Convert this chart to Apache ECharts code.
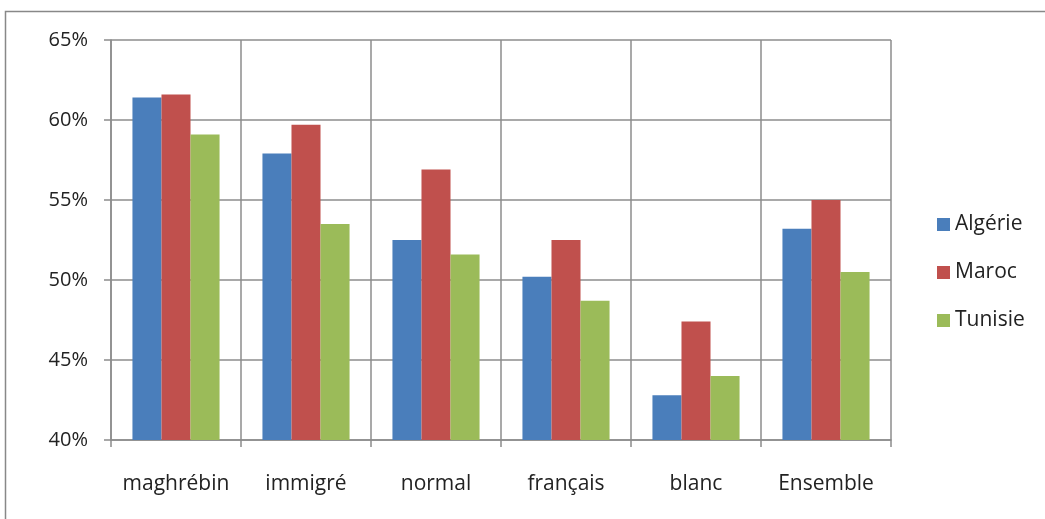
<!DOCTYPE html>
<html>
<head>
<meta charset="utf-8">
<script src="https://cdn.jsdelivr.net/npm/echarts@6/dist/echarts.min.js"></script>
<style>
  html, body { margin: 0; padding: 0; background: #fff; }
  #chart { width: 1045px; height: 519px; }
</style>
</head>
<body>
<div id="chart"></div>
<script>
const categories = ["maghrébin", "immigré", "normal", "français", "blanc", "Ensemble"];
const seriesNames = ["Algérie", "Maroc", "Tunisie"];
const algerie = [61.4, 57.9, 52.5, 50.2, 42.8, 53.2];
const maroc = [61.6, 59.7, 56.9, 52.5, 47.4, 55.0];
const tunisie = [59.1, 53.5, 51.6, 48.7, 44.0, 50.5];
const colors = ["#4a7ebb", "#c0504d", "#9bbb59"];

const font = "'Open Sans', 'Noto Sans', sans-serif";
const gridColor = "#8c8c8c";

const chart = echarts.init(document.getElementById("chart"));
const dataList = [algerie, maroc, tunisie];

const option = {
  backgroundColor: "#fff",
  animation: false,
  graphic: [
    {
      type: "rect",
      shape: { x: 5.5, y: 11.5, width: 1100, height: 600 },
      style: { fill: "none", stroke: "#888", lineWidth: 1.5 }
    }
  ],
  legend: {
    data: seriesNames,
    orient: "vertical",
    left: 932,
    top: 209,
    itemWidth: 13,
    itemHeight: 13,
    itemGap: 27,
    icon: "rect",
    textStyle: { fontFamily: font, fontSize: 21, color: "#222" }
  },
  grid: {
    left: 111,
    right: 1045 - 891,
    top: 40,
    bottom: 519 - 440
  },
  xAxis: {
    type: "category",
    data: categories,
    axisLine: { lineStyle: { color: gridColor, width: 1.5 } },
    axisTick: { show: true, interval: 0, length: 7, lineStyle: { color: gridColor, width: 1.5 } },
    splitLine: { show: true, interval: 0, lineStyle: { color: gridColor, width: 1.5 } },
    axisLabel: { interval: 0, fontFamily: font, fontSize: 21, color: "#222", margin: 34 }
  },
  yAxis: {
    type: "value",
    min: 40,
    max: 65,
    interval: 5,
    axisLine: { show: true, lineStyle: { color: gridColor, width: 1.5 } },
    axisTick: { show: true, length: 7, lineStyle: { color: gridColor, width: 1.5 } },
    splitLine: { show: true, lineStyle: { color: gridColor, width: 1.5 } },
    axisLabel: {
      fontFamily: font, fontSize: 20, color: "#222", margin: 23,
      formatter: v => v + "%"
    }
  },
  series: seriesNames.map((name, i) => ({
    name: name,
    type: "bar",
    data: dataList[i],
    barGap: "0%",
    barCategoryGap: "33%",
    itemStyle: { color: colors[i] }
  }))
};

chart.setOption(option);
</script>
</body>
</html>
